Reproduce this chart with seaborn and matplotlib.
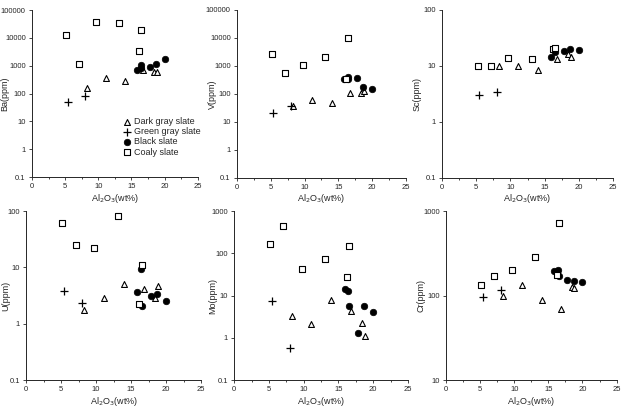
import numpy as np
import pandas as pd
import seaborn as sns
import matplotlib.pyplot as plt

# Al2O3 (wt%) for each sample group
coaly_x = [5.2, 7.1, 9.7, 13.1, 16.2, 16.5]
dark_x = [8.3, 11.1, 14.0, 16.8, 18.4, 18.8]
green_x = [5.4, 8.0]
black_x = [15.9, 16.4, 16.5, 17.8, 18.7, 20.0]

# trace elements (ppm), same sample order as above
ba_coaly = [13000, 1150, 37000, 35000, 3400, 20000]
ba_dark = [160, 360, 290, 690, 600, 600]
ba_green = [48, 80]
ba_black = [690, 1100, 850, 900, 1120, 1730]

v_coaly = [2600, 550, 1100, 2000, 350, 9500]
v_dark = [38, 62, 48, 105, 105, 130]
v_green = [21, 38]
v_black = [330, 400, 330, 360, 170, 150]

sc_coaly = [10, 10, 14, 13, 20, 21]
sc_dark = [10, 10, 8.4, 13.4, 16, 14.4]
sc_green = [3.0, 3.4]
sc_black = [14.4, 20, 17.6, 18, 20, 19]

u_coaly = [61, 25, 22.4, 83, 2.2, 11.2]
u_dark = [1.74, 2.9, 5.1, 4.2, 2.9, 4.6]
u_green = [3.8, 2.3]
u_black = [3.7, 9.3, 2.1, 3.1, 3.4, 2.5]

mo_coaly = [163, 435, 42, 72, 27, 146]
mo_dark = [3.3, 2.1, 7.9, 4.2, 2.2, 1.1]
mo_green = [7.5, 0.57]
mo_black = [14.4, 12.6, 5.8, 1.29, 5.8, 4.0]

cr_coaly = [134, 171, 203, 288, 174, 728]
cr_dark = [99, 133, 89, 69, 127, 123]
cr_green = [96, 115]
cr_black = [198, 200, 170, 152, 148, 144]

group_names = ['Dark gray slate', 'Green gray slate', 'Black slate', 'Coaly slate']
xs = {'Dark gray slate': dark_x, 'Green gray slate': green_x,
      'Black slate': black_x, 'Coaly slate': coaly_x}

panels = [
    ('Ba(ppm)', {'Dark gray slate': ba_dark, 'Green gray slate': ba_green, 'Black slate': ba_black, 'Coaly slate': ba_coaly}, (0.1, 100000)),
    ('V(ppm)', {'Dark gray slate': v_dark, 'Green gray slate': v_green, 'Black slate': v_black, 'Coaly slate': v_coaly}, (0.1, 100000)),
    ('Sc(ppm)', {'Dark gray slate': sc_dark, 'Green gray slate': sc_green, 'Black slate': sc_black, 'Coaly slate': sc_coaly}, (0.1, 100)),
    ('U(ppm)', {'Dark gray slate': u_dark, 'Green gray slate': u_green, 'Black slate': u_black, 'Coaly slate': u_coaly}, (0.1, 100)),
    ('Mo(ppm)', {'Dark gray slate': mo_dark, 'Green gray slate': mo_green, 'Black slate': mo_black, 'Coaly slate': mo_coaly}, (0.1, 1000)),
    ('Cr(ppm)', {'Dark gray slate': cr_dark, 'Green gray slate': cr_green, 'Black slate': cr_black, 'Coaly slate': cr_coaly}, (10, 1000)),
]

# marker styles per group
styles = {
    'Dark gray slate': dict(marker='^', s=18, facecolor='white', edgecolor='black', linewidth=0.8),
    'Green gray slate': dict(marker='+', s=30, color='black', linewidth=0.9),
    'Black slate': dict(marker='o', s=22, color='black', edgecolor='black', linewidth=0.5),
    'Coaly slate': dict(marker='s', s=18, facecolor='white', edgecolor='black', linewidth=0.8),
}

# axes rectangles in figure fraction
positions = [
    [0.0515, 0.565, 0.267, 0.410],
    [0.3816, 0.563, 0.272, 0.413],
    [0.712, 0.563, 0.275, 0.413],
    [0.0419, 0.0663, 0.282, 0.415],
    [0.377, 0.0663, 0.280, 0.415],
    [0.718, 0.0663, 0.275, 0.415],
]
# y label x position (axes fraction)
ylab_x = [-0.138, -0.118, -0.123, -0.091, -0.098, -0.117]

sns.set_style('ticks')
plt.rcParams['font.family'] = ['Liberation Sans', 'DejaVu Sans']

fig = plt.figure(figsize=(6.21, 4.07), dpi=100)

for i, (ylab, vals, ylim) in enumerate(panels):
    ax = fig.add_axes(positions[i])
    for g in group_names:
        df = pd.DataFrame({'x': xs[g], 'y': vals[g]})
        sns.scatterplot(data=df, x='x', y='y', ax=ax, label=g if i == 0 else None,
                        legend=False, zorder=3, **styles[g])
    ax.set_yscale('log')
    ax.set_ylim(*ylim)
    ax.set_xlim(0, 25)
    ax.set_xticks(np.arange(0, 26, 5))
    ax.set_xticks(np.arange(2.5, 25, 5), minor=True)
    ax.yaxis.set_minor_locator(plt.NullLocator())
    ax.yaxis.set_major_formatter(plt.FuncFormatter(lambda v, p: ('%g' % v)))
    ax.tick_params(axis='both', which='major', labelsize=5.5, length=2.5, width=0.6, pad=2)
    ax.tick_params(axis='x', which='minor', length=1.5, width=0.6)
    ax.set_xlabel('Al$_2$O$_3$(wt%)', fontsize=6.5, labelpad=1)
    ax.set_ylabel(ylab, fontsize=6.5)
    ax.yaxis.set_label_coords(ylab_x[i], 0.5)
    sns.despine(ax=ax)
    for sp in ax.spines.values():
        sp.set_linewidth(0.7)
    if i == 0:
        ax.legend(loc='upper left', bbox_to_anchor=(0.52, 0.385), frameon=False,
                  fontsize=6.5, handletextpad=0.2, labelspacing=0.12, borderpad=0,
                  handlelength=1.0, markerscale=1.0)

fig.savefig('out.png', dpi=100)
